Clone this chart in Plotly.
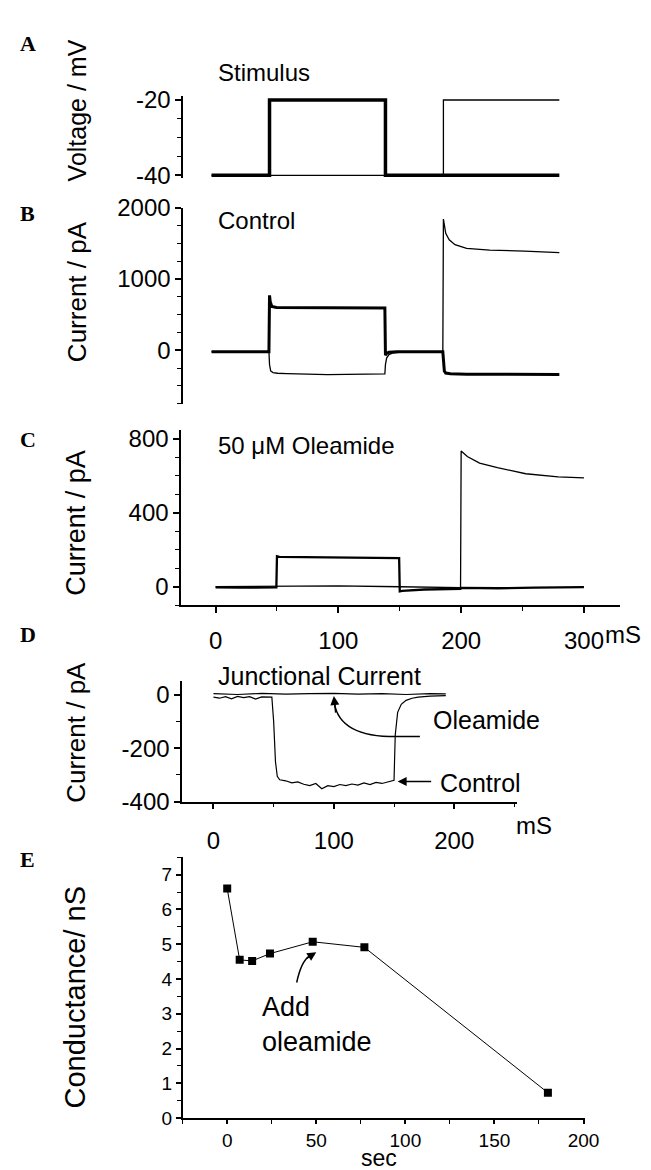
import plotly.graph_objects as go

W, H = 651, 1170

# ---------------- data ----------------
# A: stimulus voltage (mV) vs time (ms)
a_thick_t = [0, 50, 50, 150, 150, 300]
a_thick_v = [-40, -40, -20, -20, -40, -40]
a_thin_t = [0, 200, 200, 300]
a_thin_v = [-40, -40, -20, -20]

# B: control currents (pA)
b_thick_t = [0, 49.5, 50, 50.6, 52, 56, 100, 149.5, 150, 151, 153, 160, 199.5, 200, 200.8, 202, 206, 220, 260, 300]
b_thick_v = [-20, -20, 770, 680, 615, 600, 597, 592, -70, -45, -28, -22, -22, -200, -290, -320, -330, -335, -335, -338]
b_thin_t = [0, 49.5, 50, 51, 53, 57, 65, 100, 149.5, 150, 151, 153, 157, 165, 199.5, 200, 200.8, 202, 205, 210, 220, 240, 270, 300]
b_thin_v = [-20, -20, -200, -290, -312, -322, -328, -342, -332, -200, -110, -60, -35, -25, -25, 1840, 1760, 1640, 1550, 1480, 1430, 1405, 1390, 1370]

# C: 50 uM oleamide currents (pA)
c_thick_t = [0, 20, 49.5, 50, 52, 100, 149.5, 150, 152, 170, 199.5, 200, 230, 260, 300]
c_thick_v = [-3, -5, -3, 165, 162, 158, 155, -25, -22, -15, -12, -6, -8, -5, -2]
c_thin_t = [0, 50, 100, 150, 199.5, 200, 205, 215, 229.5, 252.6, 279, 300]
c_thin_v = [0, 2, 5, 0, -5, 735, 705, 670, 645, 612, 595, 590]

# D: junctional current (pA)
d_ctrl_t = [0, 5, 10, 15, 20, 25, 30, 35, 40, 45, 48.5, 50, 51.5, 53, 55, 60, 65, 70, 75, 80, 85, 90, 95, 100, 105, 110,
            115, 120, 125, 130, 135, 140, 145, 149.5, 150, 151, 153, 156, 160, 165, 170, 180, 193]
d_ctrl_v = [-8, -12, -6, -14, -5, -10, -6, -15, -7, -9, -8, -100, -250, -305, -318, -322, -330, -326, -335, -340, -332,
            -352, -340, -344, -336, -340, -334, -338, -330, -336, -328, -332, -326, -322, -320, -150, -65, -35, -20, -12, -8, -4, -2]
d_olea_t = [0, 20, 40, 60, 80, 100, 120, 140, 160, 180, 193]
d_olea_v = [5, 2, 6, 3, 5, 6, 3, 5, 2, 5, 4]

# E: conductance (nS) vs time (sec)
e_t = [0, 7, 14, 24, 48, 77, 180]
e_g = [6.6, 4.55, 4.52, 4.73, 5.07, 4.91, 0.73]

# tick labels
a_ytickvals = [-40, -20]
a_yticktext = ["-40", "-20"]
c_xtickvals = [0, 100, 200, 300]
c_xticktext = ["0", "100", "200", "300"]
d_ytickvals = [-400, -200, 0]
d_yticktext = ["-400", "-200", "0"]

# ---------------- layout helpers ----------------
def px(x):
    return x / W


def py(y):
    return 1 - y / H


FONT = "Liberation Sans, Arial, sans-serif"
SERIF = "Liberation Serif, Times New Roman, serif"

fig = go.Figure()


def line(xs, ys, ax, width, color="black"):
    fig.add_trace(go.Scatter(x=xs, y=ys, mode="lines", xaxis="x" + ax, yaxis="y" + ax,
                             line=dict(color=color, width=width), showlegend=False, hoverinfo="skip"))


line(a_thin_t, a_thin_v, "", 1.3)
line(a_thick_t, a_thick_v, "", 3.5)
line(b_thin_t, b_thin_v, "2", 1.3)
line(b_thick_t, b_thick_v, "2", 3.0)
line(c_thin_t, c_thin_v, "3", 1.3)
line(c_thick_t, c_thick_v, "3", 2.3)
line(d_olea_t, d_olea_v, "4", 1.2)
line(d_ctrl_t, d_ctrl_v, "4", 1.2)
fig.add_trace(go.Scatter(x=e_t, y=e_g, mode="lines+markers", xaxis="x5", yaxis="y5",
                         line=dict(color="black", width=1),
                         marker=dict(symbol="square", size=8, color="black"),
                         showlegend=False, hoverinfo="skip"))

base_axis = dict(showline=True, linecolor="black", linewidth=1.5, ticks="outside", ticklen=6,
                 tickwidth=1.5, tickcolor="black", showgrid=False, zeroline=False,
                 tickfont=dict(family=FONT, size=24, color="black"))


def minor(d, t0=0):
    return dict(dtick=d, tick0=t0, ticks="outside", ticklen=4, tickwidth=1.2, tickcolor="black", showgrid=False)


lay = {}
# Panel A
lay["xaxis"] = dict(domain=[px(179), px(599)], range=[-24.5, 330], visible=False, anchor="y")
lay["yaxis"] = dict(base_axis, domain=[py(160), py(76)], range=[-40.8, -19], tickvals=a_ytickvals,
                    ticktext=a_yticktext, minor=minor(5, -40), anchor="x")
# Panel B
lay["xaxis2"] = dict(domain=[px(179), px(599)], range=[-24.5, 330], visible=False, anchor="y2")
lay["yaxis2"] = dict(base_axis, domain=[py(391), py(190)], range=[-753, 2000], dtick=1000, tick0=0,
                     minor=minor(250), anchor="x2")
# Panel C
lay["xaxis3"] = dict(base_axis, domain=[px(177), px(625)], range=[-28, 329], tickvals=c_xtickvals,
                     ticktext=c_xticktext, minor=minor(50), anchor="y3", ticklabelstandoff=7)
lay["yaxis3"] = dict(base_axis, domain=[py(597), py(418)], range=[-100, 847], dtick=400, tick0=0,
                     minor=minor(100), anchor="x3")
# Panel D
lay["xaxis4"] = dict(base_axis, domain=[px(178), px(520)], range=[-26, 252], dtick=100, tick0=0,
                     minor=minor(50), anchor="y4", ticklabelstandoff=11)
lay["yaxis4"] = dict(base_axis, domain=[py(798), py(675)], range=[-400, 51], tickvals=d_ytickvals,
                     ticktext=d_yticktext, minor=minor(100), anchor="x4")
# Panel E
lay["xaxis5"] = dict(base_axis, domain=[px(178.5), px(590)], range=[-25, 201], dtick=50, tick0=0,
                     minor=minor(25), anchor="y5", ticklen=4,
                     tickfont=dict(family=FONT, size=19, color="black"))
lay["yaxis5"] = dict(base_axis, domain=[py(1122), py(855)], range=[0, 7.5], dtick=1, tick0=0,
                     minor=minor(0.5), anchor="x5", ticklen=5,
                     tickfont=dict(family=FONT, size=19, color="black"))

fig.update_layout(width=W, height=H, margin=dict(l=0, r=0, t=0, b=0),
                  paper_bgcolor="white", plot_bgcolor="white", **lay)

ann = []


def text(x, y, s, size=24, xanchor="left", family=FONT, angle=0, bold=False):
    ann.append(dict(x=px(x), y=py(y), xref="paper", yref="paper", text=("<b>%s</b>" % s) if bold else s,
                    showarrow=False, xanchor=xanchor, yanchor="middle", textangle=angle,
                    font=dict(family=family, size=size, color="black")))


# panel letters
for letter, yy in [("A", 22), ("B", 196), ("C", 427), ("D", 627), ("E", 857)]:
    text(20, yy, letter, size=22, xanchor="center", family=SERIF, bold=True)

# y-axis titles
text(70, 90, "Voltage / mV", size=25, xanchor="center", angle=-90)
text(70, 276, "Current / pA", size=26, xanchor="center", angle=-90)
text(70, 512, "Current / pA", size=27, xanchor="center", angle=-90)
text(70, 727, "Current / pA", size=26, xanchor="center", angle=-90)
text(68, 999, "Conductance/ nS", size=29, xanchor="center", angle=-90)

# in-panel labels
text(213, 52, "Stimulus", size=24)
text(213, 203, "Control", size=24)
text(213, 433, "50 μM Oleamide", size=24)
text(213, 669, "Junctional Current", size=25)
text(432, 714, "Oleamide", size=25)
text(439, 779, "Control", size=25)
text(608, 627, "mS", size=24)
text(517, 822, "mS", size=24)
text(379, 1163, "sec", size=23, xanchor="center")
ann.append(dict(x=px(258), y=py(1026), xref="paper", yref="paper", text="Add<br>oleamide",
                showarrow=False, xanchor="left", yanchor="middle", align="left",
                font=dict(family=FONT, size=27, color="black")))

# arrows (heads)
ann.append(dict(x=100, y=-4, xref="x4", yref="y4", ax=2, ay=18, text="", showarrow=True,
                arrowhead=2, arrowsize=1.2, arrowwidth=1.5, arrowcolor="black"))
ann.append(dict(x=153, y=-325, xref="x4", yref="y4", ax=35, ay=0, text="", showarrow=True,
                arrowhead=2, arrowsize=1.2, arrowwidth=1.5, arrowcolor="black"))
ann.append(dict(x=50, y=4.77, xref="x5", yref="y5", ax=-11, ay=7, text="", showarrow=True,
                arrowhead=2, arrowsize=1.2, arrowwidth=1.5, arrowcolor="black"))

fig.update_layout(annotations=ann)

# curved arrow shafts
fig.add_shape(type="path", xref="x4", yref="y4", path="M 171.5,-156 L 146,-156 Q 102,-150 100,-14",
              line=dict(color="black", width=1.5))
fig.add_shape(type="path", xref="x5", yref="y5", path="M 39,3.9 Q 41.5,4.5 46,4.66",
              line=dict(color="black", width=1.5))

fig.write_html("out.html")
